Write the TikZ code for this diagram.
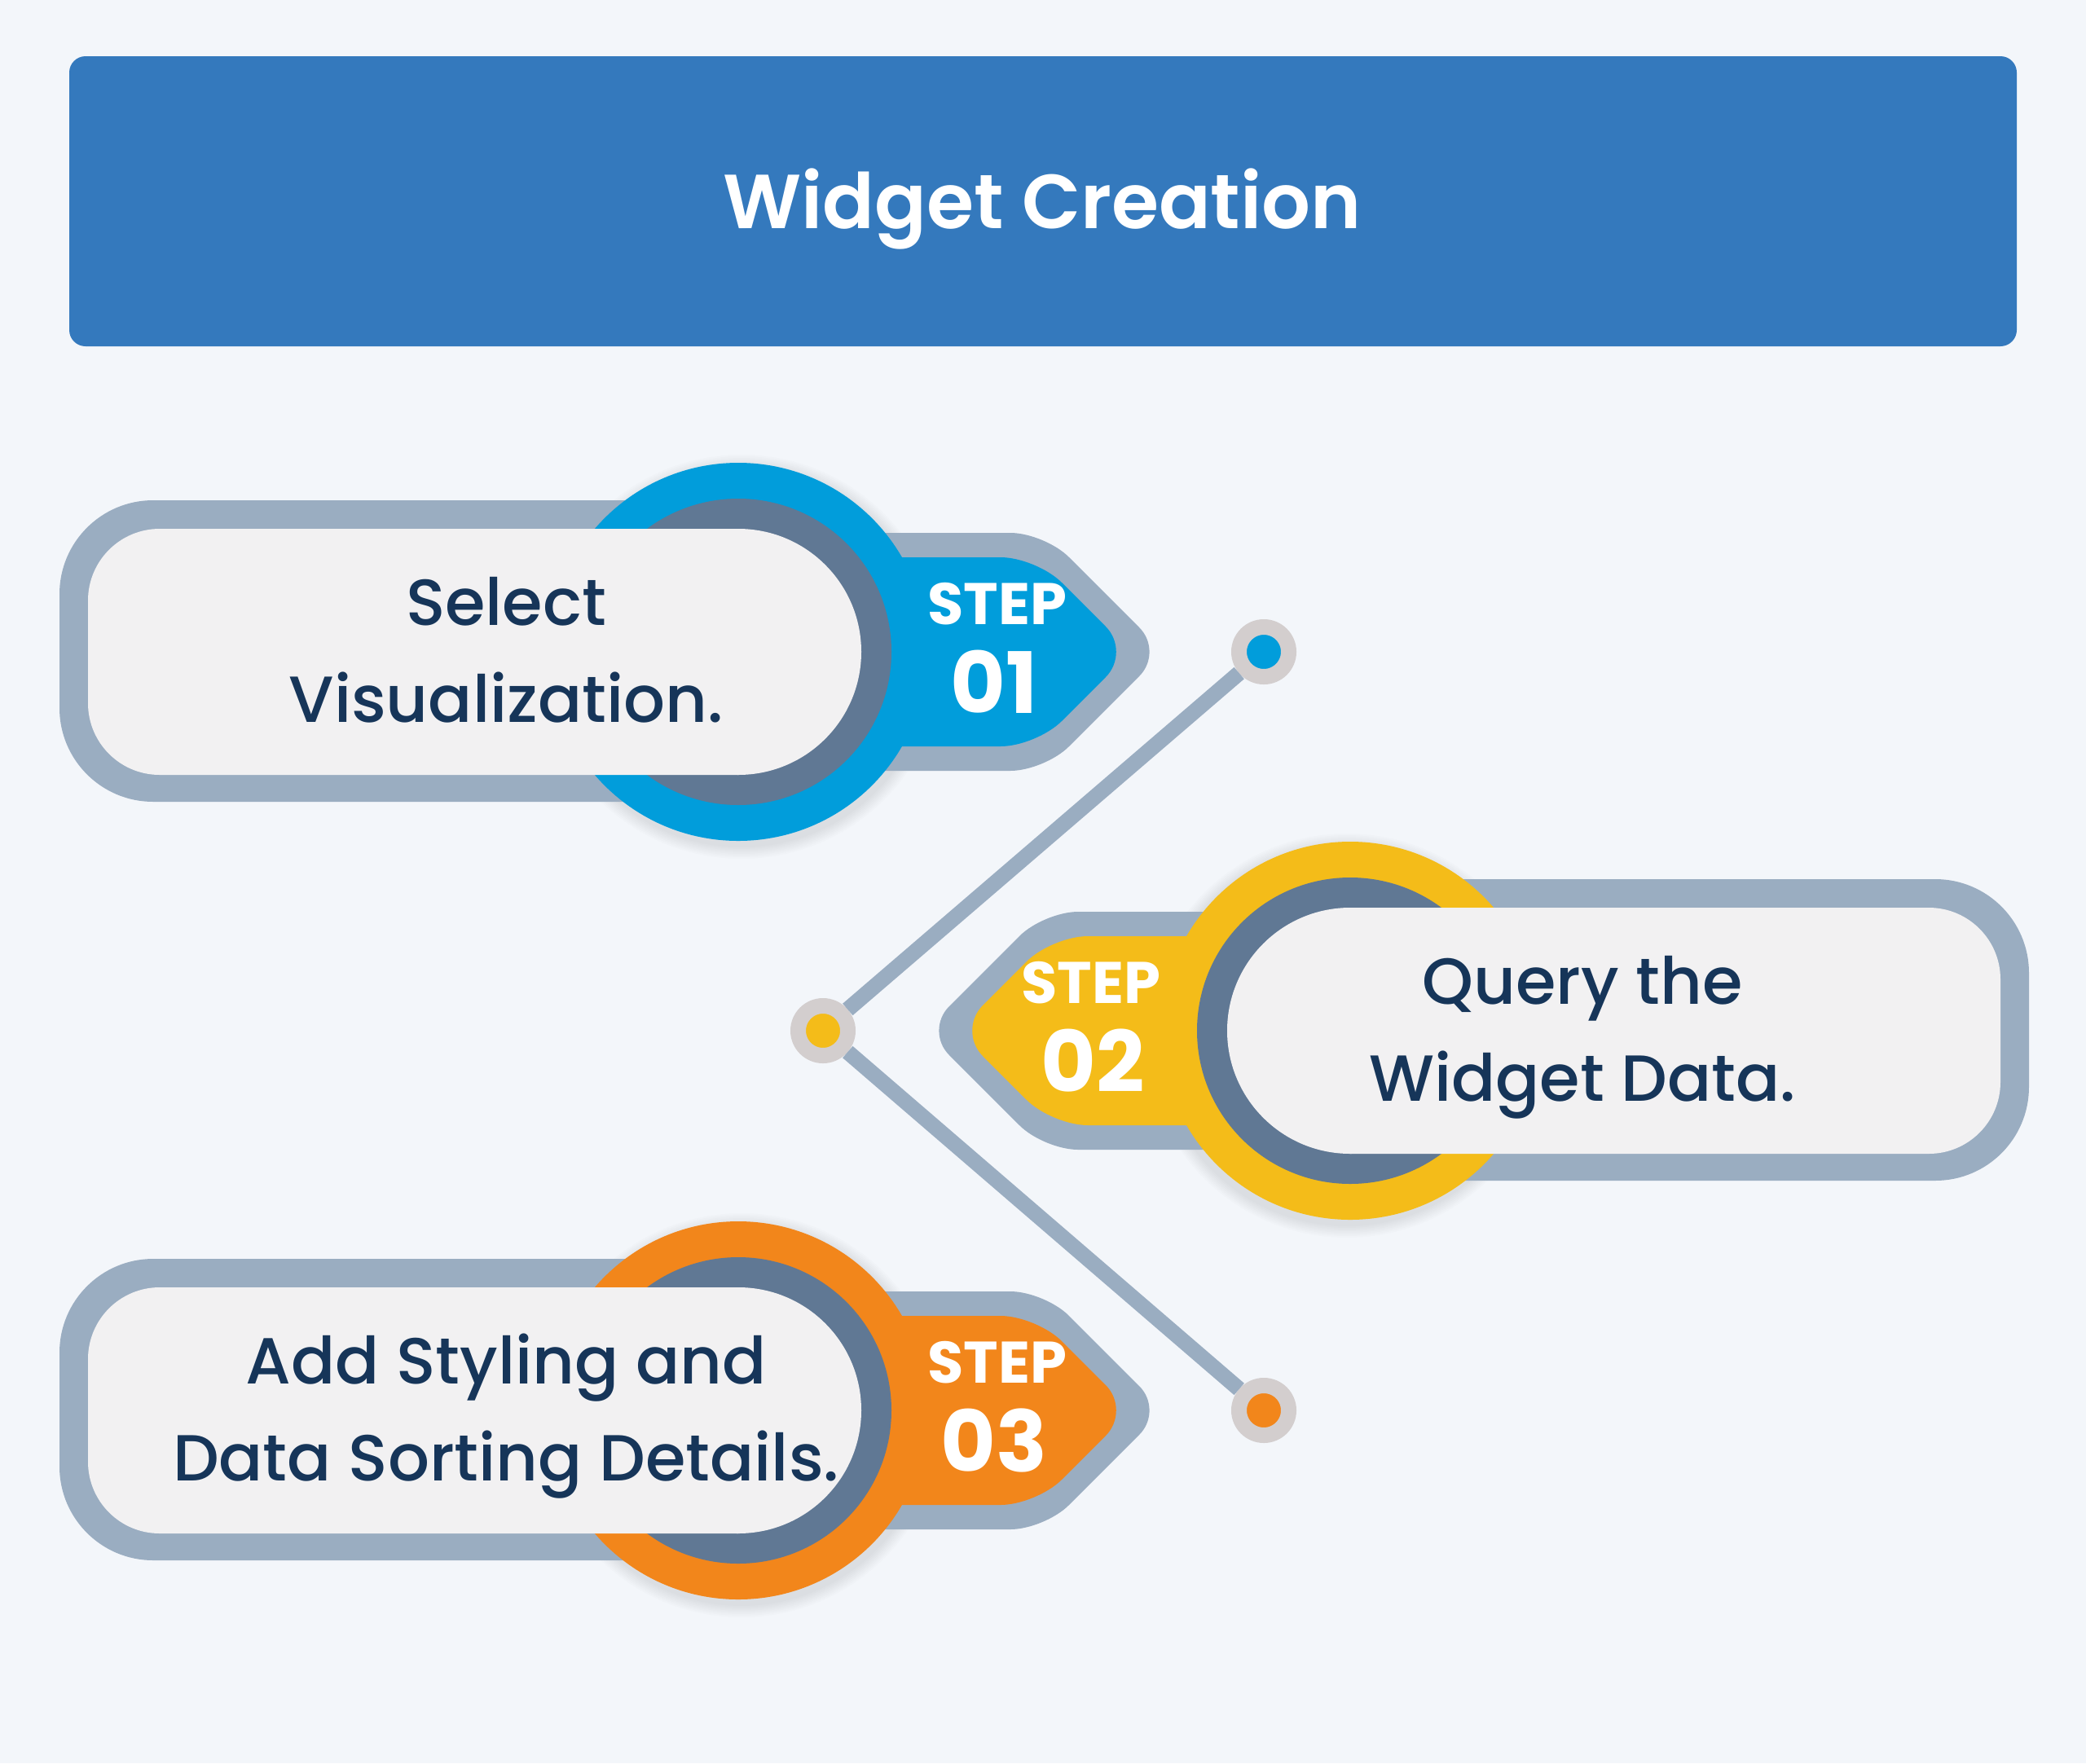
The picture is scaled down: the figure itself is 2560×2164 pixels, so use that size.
\documentclass[tikz,border=0pt]{standalone}
\usepackage{fontspec}
\setmainfont{Poppins}
\IfFontExistsTF{Poppins Medium}{\newfontfamily\popmed{Poppins Medium}}{\newcommand\popmed{\normalfont}}
\IfFontExistsTF{Poppins SemiBold}{\newfontfamily\popsb{Poppins SemiBold}}{\newcommand\popsb{\bfseries}}
\definecolor{bg}{HTML}{F3F6FA}
\definecolor{titleblue}{HTML}{3479BD}
\definecolor{cblue}{HTML}{019DDB}
\definecolor{cyellow}{HTML}{F4BC19}
\definecolor{corange}{HTML}{F2861B}
\definecolor{slate}{HTML}{607894}
\definecolor{gbl}{HTML}{9AADC1}
\definecolor{pillc}{HTML}{F2F1F2}
\definecolor{navy}{HTML}{163559}
\definecolor{ring}{HTML}{D3CECE}
\tikzset{
  pilltext/.style={anchor=base, text=navy, inner sep=0pt, font=\fontsize{80}{96}\selectfont\popmed},
  steplabel/.style={anchor=base, text=white, inner sep=0pt, font=\fontsize{72}{86}\selectfont\bfseries},
  stepnum/.style={anchor=base, text=white, inner sep=0pt, font=\fontsize{104}{120}\selectfont\bfseries},
  dotnode/.style={circle, minimum size=61pt, inner sep=0pt, draw=ring, line width=19pt, fill=#1},
  conn/.style={draw=gbl, line width=19pt},
}
\newcommand\stepgroup[1]{%
  \foreach \k in {1,...,8}{\fill[black, opacity=0.012] (910,806) circle[radius=232+2*\k];}
  \fill[gbl, rounded corners=115] (73,614) rectangle (906,984);
  \fill[gbl, rounded corners=42] (906,654) -- (1282,654) -- (1428,800) -- (1282,946) -- (906,946) -- cycle;
  \fill[#1, rounded corners=44] (906,684) -- (1272,684) -- (1388,800) -- (1272,916) -- (906,916) -- cycle;
  \fill[#1] (906,800) circle[radius=232];
  \fill[slate] (906,800) circle[radius=188];
  \fill[pillc] (906,649) -- (800,649) [rounded corners=88] -- (108,649) -- (108,951) -- (800,951) [sharp corners] -- (906,951) -- cycle;
  \fill[pillc] (906,800) circle[radius=151];
}
\begin{document}
\begin{tikzpicture}[x=1pt,y=-1pt]
\useasboundingbox (0,0) rectangle (2560,2164);
\fill[bg] (0,0) rectangle (2560,2164);
% title
\fill[titleblue, rounded corners=20] (85,69) rectangle (2475,425);
\node[anchor=base, text=white, inner sep=0pt, font=\fontsize{94}{110}\selectfont\popsb] (title) at (1279,280) {Widget Creation};
% steps
\begin{scope}\stepgroup{cblue}\end{scope}
\begin{scope}[shift={(2563,465)}, xscale=-1]\stepgroup{cyellow}\end{scope}
\begin{scope}[shift={(0,931)}]\stepgroup{corange}\end{scope}
% texts
\node[pilltext] (t1a) at (621,767) {Select};
\node[pilltext] (t1b) at (621,886) {Visualization.};
\node[steplabel] (s1) at (1224,766) {STEP};
\node[stepnum] (n1) at (1220,875) {01};
\node[pilltext] (t2a) at (1942,1232) {Query the};
\node[pilltext] (t2b) at (1942,1351) {Widget Data.};
\node[steplabel] (s2) at (1339,1231) {STEP};
\node[stepnum] (n2) at (1341,1340) {02};
\node[pilltext] (t3a) at (621,1698) {Add Styling and};
\node[pilltext] (t3b) at (621,1817) {Data Sorting Details.};
\node[steplabel] (s3) at (1224,1697) {STEP};
\node[stepnum] (n3) at (1220,1806) {03};
% connectors
\node[dotnode=cblue] (d1) at (1551,800) {};
\node[dotnode=cyellow] (d2) at (1010,1265) {};
\node[dotnode=corange] (d3) at (1551,1731) {};
\draw[conn] (d2) -- (d1);
\draw[conn] (d2) -- (d3);
\end{tikzpicture}
\end{document}
